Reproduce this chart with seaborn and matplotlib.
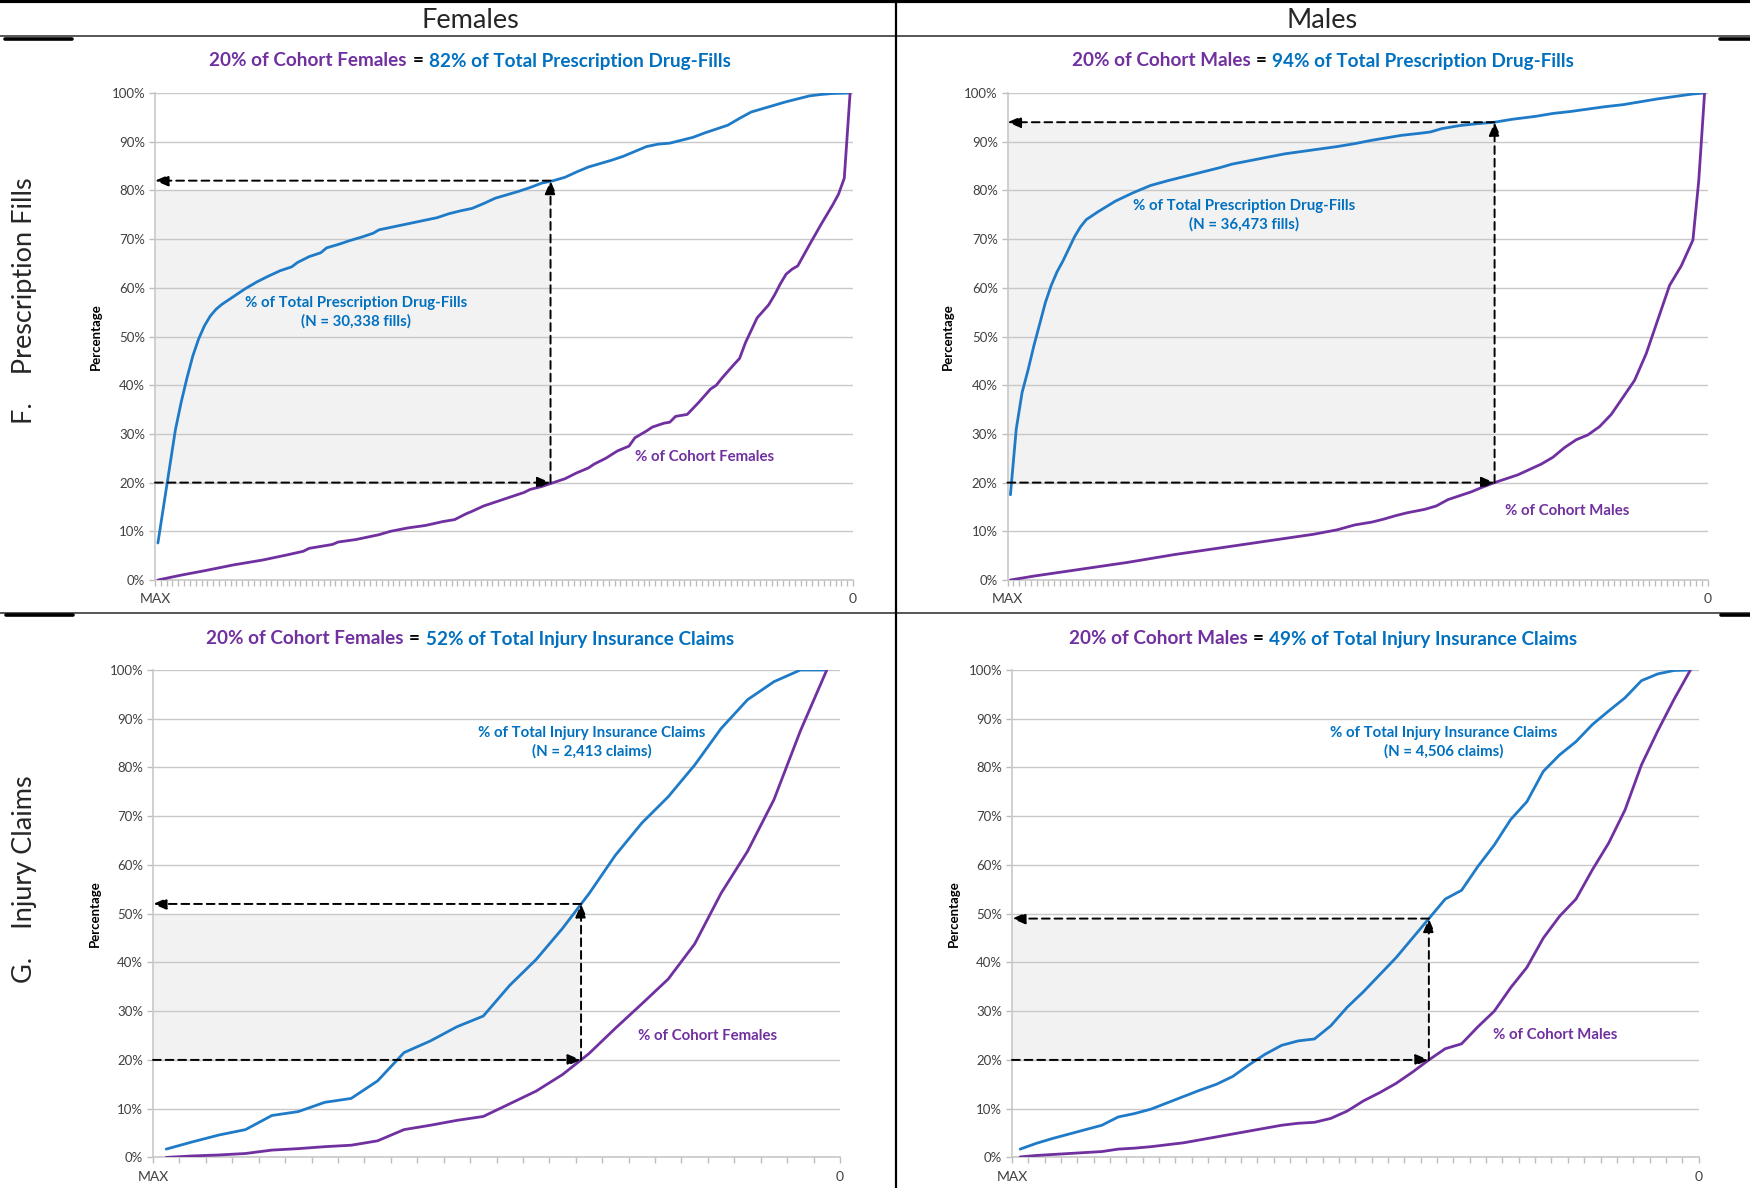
import numpy as np
import pandas as pd
import matplotlib
matplotlib.use("Agg")
import matplotlib.pyplot as plt
import seaborn as sns
from matplotlib.offsetbox import TextArea, HPacker, AnnotationBbox
from matplotlib.lines import Line2D

sns.set_style("white")
plt.rcParams["font.family"] = ["Lato", "DejaVu Sans"]

LINE_BLUE = "#1F7BC7"
TITLE_BLUE = "#0070C0"
PURPLE = "#7030A0"
GRID = "#C8C8C8"
TEXT_GREY = "#404040"

# ---------------- data ----------------
# Prescription fills: 120 ranked categories (MAX -> 0)
rx_n = 120
rx_f_fill_pos = [0, 3, 4, 5, 6, 7, 8, 9, 10, 11, 13, 15, 17, 19, 21, 23, 24, 26, 28, 29,
                 31, 33, 35, 37, 38, 40, 42, 44, 46, 48, 50, 52, 54, 56, 58, 60, 62, 64, 66, 68,
                 70, 72, 74, 76, 78, 80, 82, 84, 86, 88, 90, 92, 94, 96, 98, 100, 102, 104, 106, 108,
                 110, 112, 114, 116, 119]
rx_f_fill_pct = [7.6, 30.8, 36.5, 41.5, 46.0, 49.5, 52.2, 54.2, 55.6, 56.6, 58.2, 59.8, 61.2, 62.4, 63.5, 64.3, 65.2, 66.4, 67.2, 68.2,
                 68.9, 69.7, 70.4, 71.2, 71.9, 72.4, 72.9, 73.4, 73.9, 74.4, 75.2, 75.8, 76.3, 77.3, 78.4, 79.1, 79.8, 80.6, 81.5, 82.0,
                 82.7, 83.8, 84.8, 85.5, 86.2, 87.0, 88.0, 89.0, 89.5, 89.7, 90.3, 90.9, 91.8, 92.6, 93.4, 94.8, 96.1, 96.8, 97.5, 98.2,
                 98.8, 99.4, 99.7, 99.9, 100.0]
rx_f_cohort_pos = [0, 4, 8, 13, 18, 22, 25, 26, 28, 30, 31, 34, 38, 40, 43, 46, 49, 51, 52, 53,
                   54, 56, 59, 61, 63, 64, 66, 68, 70, 72, 74, 75, 77, 79, 81, 82, 84, 85, 87, 88,
                   89, 91, 93, 95, 96, 97, 99, 100, 101, 103, 105, 106, 107, 108, 109, 110, 112, 114, 116, 117,
                   118, 119]
rx_f_cohort_pct = [0, 1.0, 1.9, 3.1, 4.1, 5.1, 5.9, 6.5, 6.9, 7.3, 7.8, 8.3, 9.3, 10.0, 10.7, 11.2, 12.0, 12.4, 13.0, 13.6,
                   14.1, 15.2, 16.4, 17.2, 18.0, 18.6, 19.2, 20.0, 20.8, 22.0, 23.0, 23.8, 25.0, 26.5, 27.5, 29.2, 30.6, 31.4, 32.2, 32.4,
                   33.6, 34.0, 36.5, 39.2, 40.0, 41.5, 44.2, 45.5, 48.7, 53.8, 56.5, 58.5, 60.8, 62.8, 63.8, 64.5, 68.8, 73.0, 77.0, 79.2,
                   82.5, 100]

rx_m_fill_pos = [0, 1, 2, 3, 4, 5, 6, 7, 8, 9, 10, 11, 12, 13, 15, 18, 21, 24, 27, 30,
                 33, 36, 38, 41, 44, 47, 50, 53, 56, 59, 62, 65, 67, 70, 72, 74, 77, 80, 83, 86,
                 90, 93, 96, 99, 102, 105, 108, 111, 114, 117, 119]
rx_m_fill_pct = [17.5, 31.0, 38.5, 43.0, 48.0, 52.5, 57.0, 60.5, 63.3, 65.5, 68.0, 70.5, 72.5, 74.0, 75.6, 77.8, 79.5, 81.0, 82.0, 82.9,
                 83.8, 84.7, 85.4, 86.1, 86.8, 87.5, 88.0, 88.5, 89.0, 89.6, 90.3, 90.9, 91.3, 91.7, 92.0, 92.7, 93.3, 93.7, 94.0, 94.6,
                 95.2, 95.8, 96.2, 96.7, 97.2, 97.6, 98.2, 98.8, 99.3, 99.8, 100]
rx_m_cohort_pos = [0, 4, 8, 12, 16, 20, 24, 28, 32, 36, 40, 44, 48, 52, 56, 59, 62, 64, 66, 68,
                   71, 73, 75, 77, 79, 81, 83, 85, 87, 89, 91, 93, 95, 97, 99, 101, 103, 105, 107, 109,
                   111, 113, 115, 117, 118, 119]
rx_m_cohort_pct = [0, 0.8, 1.5, 2.2, 2.9, 3.6, 4.4, 5.2, 5.9, 6.6, 7.3, 8.0, 8.7, 9.4, 10.3, 11.3, 11.9, 12.5, 13.2, 13.8,
                   14.5, 15.2, 16.5, 17.3, 18.1, 19.1, 20.0, 20.8, 21.6, 22.7, 23.8, 25.2, 27.2, 28.8, 29.8, 31.5, 34.0, 37.5, 41.0, 46.5,
                   53.5, 60.5, 64.5, 69.8, 82.0, 100]

# Injury insurance claims: one value per ranked category (MAX -> 0)
inj_f_claims_pct = [1.7, 3.2, 4.6, 5.7, 8.6, 9.4, 11.3, 12.1, 15.7, 21.5, 23.9, 26.8, 29.0,
                    35.3, 40.6, 47.0, 54.1, 62.0, 68.6, 74.0, 80.5, 88.0, 93.9, 97.6, 100.0, 100.0]
inj_f_cohort_pct = [0, 0.3, 0.5, 0.8, 1.5, 1.8, 2.2, 2.5, 3.4, 5.7, 6.6, 7.6, 8.4,
                    11.0, 13.6, 17.0, 21.3, 26.5, 31.5, 36.6, 43.8, 54.2, 62.8, 73.4, 87.5, 100]
inj_m_claims_pct = [1.7, 2.9, 3.9, 4.8, 5.7, 6.6, 8.3, 9.0, 9.9, 11.2, 12.5, 13.8, 15.0, 16.6,
                    19.0, 21.2, 23.0, 23.9, 24.3, 27.0, 30.8, 34.0, 37.5, 41.0, 45.0, 49.0, 53.0, 54.8,
                    59.7, 64.1, 69.3, 73.0, 79.2, 82.6, 85.3, 88.8, 91.6, 94.3, 97.8, 99.2, 99.9, 100]
inj_m_cohort_pct = [0.1, 0.4, 0.6, 0.8, 1.0, 1.2, 1.7, 1.9, 2.2, 2.6, 3.0, 3.6, 4.2, 4.8,
                    5.4, 6.0, 6.6, 7.0, 7.2, 8.0, 9.5, 11.6, 13.3, 15.2, 17.5, 20.0, 22.3, 23.3,
                    26.8, 30.0, 34.8, 39.0, 45.0, 49.5, 53.0, 59.0, 64.5, 71.3, 80.5, 87.5, 94.0, 100]

# 20% of the cohort and the matching share of the total
cohort_share = 20
cut_pos = [67.5, 83, 15.7, 25]        # ranked position where the cohort reaches 20%
cut_pct = [82, 94, 52, 49]            # share of total at that point
shade_top = [80, 94, 50, 49]

sexes = ["Females", "Males"]
row_labels = ["F.    Prescription Fills", "G.    Injury Claims"]
measure_titles = ["Total Prescription Drug-Fills", "Total Injury Insurance Claims"]
fill_labels = ["% of Total Prescription Drug-Fills\n(N = 30,338 fills)",
               "% of Total Prescription Drug-Fills\n(N = 36,473 fills)",
               "% of Total Injury Insurance Claims\n(N = 2,413 claims)",
               "% of Total Injury Insurance Claims\n(N = 4,506 claims)"]
fill_label_xy = [(34, 55), (40, 74.8), (16.1, 85.1), (25.9, 85.1)]
cohort_label_xy = [(94, 25.2), (95.5, 14.2), (20.5, 24.9), (32.7, 25.2)]
y_ticks = list(range(0, 101, 10))

panels = [
    dict(n=rx_n, fx=rx_f_fill_pos, fy=rx_f_fill_pct, cx=rx_f_cohort_pos, cy=rx_f_cohort_pct),
    dict(n=rx_n, fx=rx_m_fill_pos, fy=rx_m_fill_pct, cx=rx_m_cohort_pos, cy=rx_m_cohort_pct),
    dict(n=len(inj_f_claims_pct), fx=list(range(len(inj_f_claims_pct))), fy=inj_f_claims_pct,
         cx=list(range(len(inj_f_cohort_pct))), cy=inj_f_cohort_pct),
    dict(n=len(inj_m_claims_pct), fx=list(range(len(inj_m_claims_pct))), fy=inj_m_claims_pct,
         cx=list(range(len(inj_m_cohort_pct))), cy=inj_m_cohort_pct),
]

W, H = 1750, 1188
fig = plt.figure(figsize=(W / 100, H / 100), dpi=100)

# axes boxes in pixels: left, top, right, bottom
boxes = [(155, 93, 853, 580), (1007.5, 93, 1707.5, 580),
         (153, 670, 840, 1157.4), (1012, 670, 1698.6, 1157.4)]


def px_axes(l, t, r, b):
    return fig.add_axes([l / W, 1 - b / H, (r - l) / W, (b - t) / H])


arrow_kw = dict(arrowstyle="-|>,head_length=0.8,head_width=0.34", color="black",
                lw=1.4, linestyle=(0, (4, 2.5)), shrinkA=0, shrinkB=0)

for k, (p, box) in enumerate(zip(panels, boxes)):
    ax = px_axes(*box)
    n = p["n"]
    xc = cut_pos[k]

    ax.fill_between([-0.5, xc], cohort_share, shade_top[k], color="#F2F2F2", lw=0, zorder=0.2)

    df = pd.DataFrame({"rank": p["fx"], "pct": p["fy"]})
    sns.lineplot(data=df, x="rank", y="pct", color=LINE_BLUE, lw=2.0, ax=ax, zorder=3)
    dc = pd.DataFrame({"rank": p["cx"], "pct": p["cy"]})
    sns.lineplot(data=dc, x="rank", y="pct", color=PURPLE, lw=2.0, ax=ax, zorder=3)

    ax.set_xlim(-0.5, n - 0.5)
    ax.set_ylim(0, 100)
    ax.set_yticks(y_ticks)
    ax.set_yticklabels([f"{v}%" for v in y_ticks])
    ax.yaxis.grid(True, color=GRID, lw=1.0)
    ax.xaxis.grid(False)
    ax.set_axisbelow(True)
    ax.set_xticks([-0.5, n - 0.5])
    ax.set_xticklabels(["MAX", "0"])
    ax.set_xticks(np.arange(-0.5, n, 1.0), minor=True)
    ax.tick_params(axis="x", which="both", bottom=True, direction="out", length=4.5, width=1,
                   color="#BDBDBD", labelsize=10, labelcolor=TEXT_GREY, pad=5)
    ax.tick_params(axis="y", left=True, direction="out", length=4, width=1, color="#BDBDBD",
                   labelsize=9.5, labelcolor=TEXT_GREY, pad=3)
    for s in ["top", "right"]:
        ax.spines[s].set_visible(False)
    for s in ["left", "bottom"]:
        ax.spines[s].set_color(GRID)
        ax.spines[s].set_linewidth(1.2)
    ax.set_xlabel("")
    ax.set_ylabel("Percentage", fontsize=9.5, fontweight="bold", color="black")
    ax.yaxis.set_label_coords(-0.076, 0.5)

    # arrows linking 20% of the cohort to its share of the total
    ax.annotate("", xy=(xc, cut_pct[k]), xytext=(xc, cohort_share), arrowprops=arrow_kw, zorder=4)
    ax.annotate("", xy=(-0.5, cut_pct[k]), xytext=(xc, cut_pct[k]), arrowprops=arrow_kw, zorder=4)
    ax.annotate("", xy=(xc, cohort_share), xytext=(-0.5, cohort_share), arrowprops=arrow_kw, zorder=4)

    ax.text(*fill_label_xy[k], fill_labels[k], color=TITLE_BLUE, fontsize=10.8, fontweight="bold",
            ha="center", va="center", multialignment="center", linespacing=1.35, zorder=5)
    ax.text(*cohort_label_xy[k], f"% of Cohort {sexes[k % 2]}", color=PURPLE, fontsize=10.8,
            fontweight="bold", ha="center", va="center", zorder=5)

    # two-colour panel title
    tp = dict(fontsize=13.6, fontweight="bold")
    parts = [TextArea(f"{cohort_share}% of Cohort {sexes[k % 2]}", textprops=dict(color=PURPLE, **tp)),
             TextArea("=", textprops=dict(color="black", **tp)),
             TextArea(f"{cut_pct[k]}% of {measure_titles[k // 2]}", textprops=dict(color=TITLE_BLUE, **tp))]
    pack = HPacker(children=parts, align="baseline", pad=0, sep=4)
    cx_title = (470 if k % 2 == 0 else 1323) / W
    cy_title = 1 - (61 if k < 2 else 639) / H
    fig.add_artist(AnnotationBbox(pack, (cx_title, cy_title), xycoords="figure fraction",
                                  frameon=False, box_alignment=(0.5, 0.5)))

# column headers and row labels
fig.text(470 / W, 1 - 21 / H, sexes[0], fontsize=19.5, ha="center", va="center")
fig.text(1322 / W, 1 - 21 / H, sexes[1], fontsize=19.5, ha="center", va="center")
fig.text(25 / W, 1 - 301 / H, row_labels[0], fontsize=19.5, rotation=90, ha="center", va="center")
fig.text(25 / W, 1 - 879 / H, row_labels[1], fontsize=19.5, rotation=90, ha="center", va="center")


def hline(x0, x1, y, lw, color):
    fig.add_artist(Line2D([x0 / W, x1 / W], [1 - y / H, 1 - y / H], lw=lw, color=color,
                          transform=fig.transFigure))


hline(0, W, 1.2, 3.0, "black")
hline(0, W, 36, 1.2, "#3A3A3A")
hline(5, 72, 38.5, 2.6, "black")
hline(1720, W, 38.5, 2.6, "black")
hline(0, W, 613, 1.2, "#3A3A3A")
hline(6, 73, 614.5, 2.6, "black")
hline(1721, W, 614.5, 2.6, "black")
fig.add_artist(Line2D([896 / W, 896 / W], [0, 1], lw=1.6, color="black", transform=fig.transFigure))

fig.savefig("out.png", dpi=100)
